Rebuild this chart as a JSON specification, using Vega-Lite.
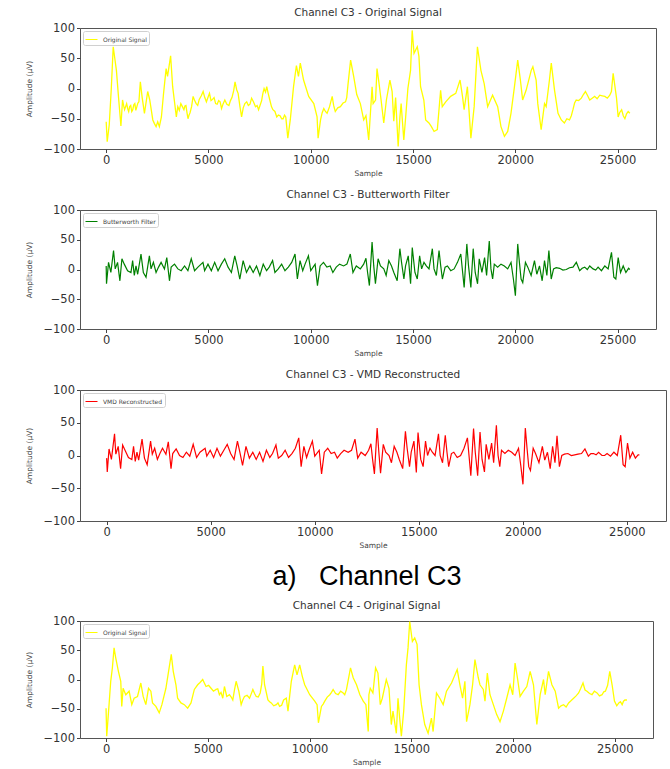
{
"$schema": "https://vega.github.io/schema/vega-lite/v6.json",
"padding": {"left": 25, "top": 7, "right": 2, "bottom": 2},
"background": "white",
"config": {
  "view": {"stroke": "#555", "strokeWidth": 1},
  "font": "DejaVu Sans",
  "title": {"fontSize": 10.5, "fontWeight": "normal", "color": "#333", "font": "DejaVu Sans", "offset": 4},
  "axis": {"grid": false, "domain": false, "tickColor": "#444", "tickSize": 3.5, "labelColor": "#333", "labelFontSize": 11.5, "labelFont": "DejaVu Sans", "titleFont": "DejaVu Sans", "titleFontSize": 7.5, "titleFontWeight": "normal", "titleColor": "#444", "labelPadding": 2},
  "axisX": {"titlePadding": 3},
  "axisY": {"titlePadding": 9},
  "legend": {"orient": "top-left", "offset": 3, "padding": 2, "fillColor": "white", "strokeColor": "#d0d0d0", "cornerRadius": 2, "labelFontSize": 6, "labelFont": "DejaVu Sans", "labelColor": "#444", "symbolType": "stroke", "symbolSize": 144, "symbolStrokeWidth": 1, "labelOffset": 5, "rowPadding": 0}
},
"datasets": {
"c3o": [{"s":0,"v":-55},{"s":50,"v":-88},{"s":150,"v":-60},{"s":250,"v":0},{"s":344,"v":69},{"s":420,"v":50},{"s":500,"v":30},{"s":600,"v":-13},{"s":720,"v":-62},{"s":800,"v":-19},{"s":900,"v":-35},{"s":1000,"v":-25},{"s":1100,"v":-38},{"s":1200,"v":-28},{"s":1300,"v":-35},{"s":1400,"v":-25},{"s":1500,"v":-30},{"s":1600,"v":-22},{"s":1670,"v":11},{"s":1760,"v":-15},{"s":1870,"v":-41},{"s":2030,"v":-5},{"s":2130,"v":-19},{"s":2280,"v":-52},{"s":2360,"v":-58},{"s":2440,"v":-63},{"s":2520,"v":-55},{"s":2600,"v":-63},{"s":2700,"v":-47},{"s":2800,"v":-10},{"s":2930,"v":33},{"s":3000,"v":20},{"s":3150,"v":54},{"s":3250,"v":3},{"s":3430,"v":-47},{"s":3500,"v":-30},{"s":3650,"v":-25},{"s":3800,"v":-35},{"s":3900,"v":-28},{"s":4000,"v":-50},{"s":4100,"v":-40},{"s":4250,"v":-13},{"s":4400,"v":-25},{"s":4550,"v":-18},{"s":4740,"v":-5},{"s":4900,"v":-22},{"s":5050,"v":-8},{"s":5200,"v":-18},{"s":5350,"v":-25},{"s":5500,"v":-20},{"s":5640,"v":-33},{"s":5800,"v":-19},{"s":6000,"v":-28},{"s":6150,"v":-15},{"s":6300,"v":11},{"s":6450,"v":-8},{"s":6620,"v":-47},{"s":6780,"v":-25},{"s":6950,"v":-28},{"s":7110,"v":-16},{"s":7300,"v":-30},{"s":7450,"v":-35},{"s":7600,"v":-20},{"s":7720,"v":0},{"s":7850,"v":3},{"s":8000,"v":-19},{"s":8150,"v":-35},{"s":8340,"v":-47},{"s":8500,"v":-45},{"s":8650,"v":-50},{"s":8780,"v":-47},{"s":8880,"v":-82},{"s":9000,"v":-52},{"s":9160,"v":3},{"s":9300,"v":38},{"s":9400,"v":20},{"s":9490,"v":42},{"s":9650,"v":14},{"s":9900,"v":-13},{"s":10150,"v":-25},{"s":10310,"v":-47},{"s":10360,"v":-82},{"s":10480,"v":-52},{"s":10640,"v":-33},{"s":10800,"v":-41},{"s":11050,"v":-13},{"s":11200,"v":-38},{"s":11450,"v":-30},{"s":11700,"v":-22},{"s":11820,"v":6},{"s":11950,"v":47},{"s":12100,"v":20},{"s":12250,"v":-10},{"s":12426,"v":-25},{"s":12590,"v":-52},{"s":12700,"v":-45},{"s":12835,"v":-85},{"s":13000,"v":3},{"s":13050,"v":-25},{"s":13170,"v":-19},{"s":13240,"v":33},{"s":13330,"v":11},{"s":13440,"v":-19},{"s":13570,"v":-57},{"s":13700,"v":-19},{"s":13870,"v":14},{"s":13980,"v":-5},{"s":14060,"v":-54},{"s":14150,"v":-15},{"s":14275,"v":-96},{"s":14360,"v":-47},{"s":14420,"v":-25},{"s":14550,"v":-85},{"s":14630,"v":-52},{"s":14750,"v":0},{"s":14880,"v":30},{"s":14960,"v":96},{"s":15050,"v":58},{"s":15210,"v":69},{"s":15290,"v":53},{"s":15370,"v":3},{"s":15530,"v":-19},{"s":15620,"v":-52},{"s":15780,"v":-57},{"s":15900,"v":-63},{"s":16030,"v":-71},{"s":16190,"v":-68},{"s":16350,"v":-3},{"s":16430,"v":-30},{"s":16600,"v":-22},{"s":16840,"v":-13},{"s":17090,"v":-8},{"s":17300,"v":14},{"s":17420,"v":-13},{"s":17500,"v":-35},{"s":17660,"v":3},{"s":17830,"v":-82},{"s":17990,"v":-30},{"s":18150,"v":69},{"s":18320,"v":30},{"s":18480,"v":8},{"s":18650,"v":-30},{"s":18890,"v":-11},{"s":19140,"v":-30},{"s":19300,"v":-63},{"s":19470,"v":-79},{"s":19630,"v":-71},{"s":19790,"v":-41},{"s":19960,"v":3},{"s":20120,"v":47},{"s":20250,"v":14},{"s":20360,"v":-19},{"s":20530,"v":-3},{"s":20780,"v":30},{"s":20860,"v":36},{"s":21020,"v":14},{"s":21100,"v":-25},{"s":21265,"v":-68},{"s":21430,"v":-25},{"s":21510,"v":-30},{"s":21670,"v":14},{"s":21760,"v":42},{"s":21920,"v":-3},{"s":22090,"v":-41},{"s":22250,"v":-52},{"s":22400,"v":-57},{"s":22650,"v":-52},{"s":22820,"v":-35},{"s":22980,"v":-19},{"s":23230,"v":-16},{"s":23430,"v":-5},{"s":23640,"v":-19},{"s":23880,"v":-13},{"s":24130,"v":-11},{"s":24380,"v":-13},{"s":24620,"v":-11},{"s":24785,"v":25},{"s":24950,"v":-16},{"s":25030,"v":-47},{"s":25200,"v":-35},{"s":25360,"v":-50},{"s":25520,"v":-38},{"s":25600,"v":-41},
{"s":850,"v":-28},{"s":950,"v":-30},{"s":1050,"v":-33},{"s":1150,"v":-30},{"s":1250,"v":-38},{"s":1350,"v":-27},{"s":1450,"v":-36},{"s":1550,"v":-24},{"s":3575,"v":-36},{"s":3725,"v":-30},{"s":3850,"v":-29},{"s":3950,"v":-40},{"s":4050,"v":-44},{"s":4175,"v":-30},{"s":4325,"v":-20},{"s":4475,"v":-28},{"s":4650,"v":-12},{"s":4820,"v":-15},{"s":4975,"v":-15},{"s":5125,"v":-20},{"s":5275,"v":-15},{"s":5425,"v":-26},{"s":5570,"v":-22},{"s":5720,"v":-25},{"s":5900,"v":-26},{"s":6075,"v":-20},{"s":6230,"v":-4},{"s":6380,"v":-2},{"s":6540,"v":-30},{"s":6700,"v":-32},{"s":6870,"v":-22},{"s":7030,"v":-26},{"s":7200,"v":-22},{"s":7380,"v":-28},{"s":7520,"v":-28},{"s":7660,"v":-8},{"s":7790,"v":-6},{"s":7920,"v":-8},{"s":8080,"v":-30},{"s":8250,"v":-38},{"s":8420,"v":-44},{"s":8580,"v":-50},{"s":8720,"v":-44},{"s":10560,"v":-40},{"s":10720,"v":-38},{"s":10920,"v":-30},{"s":11120,"v":-28},{"s":11320,"v":-32},{"s":11580,"v":-24},{"s":11760,"v":-15},{"s":22520,"v":-50},{"s":22740,"v":-45},{"s":22900,"v":-24},{"s":23100,"v":-20},{"s":23330,"v":-10},{"s":23540,"v":-12},{"s":23760,"v":-16},{"s":24000,"v":-17},{"s":24250,"v":-12},{"s":24500,"v":-16},{"s":24700,"v":-5},{"s":25100,"v":-40},{"s":25280,"v":-45},{"s":25440,"v":-42}],
"c3b": [{"s":0,"v":6},{"s":16,"v":-24},{"s":115,"v":12},{"s":229,"v":-5},{"s":360,"v":32},{"s":442,"v":1},{"s":556,"v":12},{"s":671,"v":-19},{"s":769,"v":18},{"s":884,"v":9},{"s":1047,"v":-2},{"s":1211,"v":-5},{"s":1293,"v":15},{"s":1375,"v":-10},{"s":1457,"v":6},{"s":1539,"v":-8},{"s":1702,"v":26},{"s":1817,"v":-5},{"s":1948,"v":-13},{"s":2112,"v":23},{"s":2194,"v":1},{"s":2308,"v":12},{"s":2439,"v":-5},{"s":2560,"v":4},{"s":2685,"v":12},{"s":2849,"v":1},{"s":2963,"v":20},{"s":3094,"v":-19},{"s":3176,"v":4},{"s":3340,"v":9},{"s":3504,"v":1},{"s":3667,"v":-2},{"s":3831,"v":6},{"s":3995,"v":-2},{"s":4159,"v":18},{"s":4322,"v":-2},{"s":4486,"v":4},{"s":4732,"v":12},{"s":4813,"v":-2},{"s":4977,"v":9},{"s":5141,"v":-2},{"s":5304,"v":12},{"s":5468,"v":-2},{"s":5632,"v":9},{"s":5795,"v":18},{"s":5959,"v":4},{"s":6123,"v":-5},{"s":6286,"v":23},{"s":6401,"v":6},{"s":6532,"v":-16},{"s":6696,"v":15},{"s":6859,"v":-5},{"s":7023,"v":6},{"s":7187,"v":-5},{"s":7350,"v":6},{"s":7514,"v":-10},{"s":7678,"v":9},{"s":7841,"v":-2},{"s":7972,"v":4},{"s":8136,"v":15},{"s":8250,"v":-5},{"s":8414,"v":1},{"s":8578,"v":9},{"s":8741,"v":-2},{"s":8905,"v":4},{"s":9069,"v":12},{"s":9232,"v":26},{"s":9347,"v":-16},{"s":9478,"v":15},{"s":9609,"v":-2},{"s":9723,"v":9},{"s":9887,"v":23},{"s":10002,"v":-2},{"s":10215,"v":9},{"s":10329,"v":-27},{"s":10460,"v":6},{"s":10624,"v":12},{"s":10788,"v":4},{"s":10951,"v":6},{"s":11082,"v":-5},{"s":11246,"v":4},{"s":11410,"v":9},{"s":11606,"v":6},{"s":11770,"v":9},{"s":11934,"v":26},{"s":12065,"v":-5},{"s":12228,"v":6},{"s":12425,"v":1},{"s":12589,"v":9},{"s":12700,"v":19},{"s":12780,"v":-5},{"s":12868,"v":-27},{"s":12999,"v":46},{"s":13081,"v":6},{"s":13163,"v":-24},{"s":13294,"v":18},{"s":13409,"v":6},{"s":13572,"v":1},{"s":13687,"v":-10},{"s":13818,"v":15},{"s":13949,"v":6},{"s":14063,"v":-5},{"s":14227,"v":-19},{"s":14358,"v":35},{"s":14440,"v":12},{"s":14555,"v":-16},{"s":14636,"v":6},{"s":14767,"v":23},{"s":14882,"v":-24},{"s":14964,"v":37},{"s":15095,"v":-5},{"s":15209,"v":-16},{"s":15324,"v":23},{"s":15422,"v":1},{"s":15537,"v":12},{"s":15651,"v":6},{"s":15782,"v":1},{"s":15946,"v":35},{"s":16028,"v":1},{"s":16142,"v":-10},{"s":16273,"v":32},{"s":16355,"v":6},{"s":16437,"v":-16},{"s":16568,"v":4},{"s":16683,"v":6},{"s":16846,"v":-2},{"s":17010,"v":1},{"s":17174,"v":12},{"s":17337,"v":26},{"s":17501,"v":-30},{"s":17632,"v":43},{"s":17714,"v":6},{"s":17829,"v":-30},{"s":17943,"v":35},{"s":18041,"v":-5},{"s":18156,"v":-24},{"s":18238,"v":18},{"s":18369,"v":-5},{"s":18500,"v":20},{"s":18598,"v":-10},{"s":18729,"v":48},{"s":18811,"v":1},{"s":18893,"v":-16},{"s":18974,"v":9},{"s":19138,"v":4},{"s":19302,"v":9},{"s":19466,"v":6},{"s":19629,"v":1},{"s":19793,"v":12},{"s":19908,"v":-16},{"s":20006,"v":-44},{"s":20120,"v":43},{"s":20202,"v":12},{"s":20284,"v":-16},{"s":20366,"v":-22},{"s":20497,"v":12},{"s":20611,"v":4},{"s":20775,"v":-10},{"s":20939,"v":15},{"s":21053,"v":-8},{"s":21184,"v":6},{"s":21315,"v":-19},{"s":21430,"v":15},{"s":21545,"v":-10},{"s":21643,"v":32},{"s":21757,"v":-16},{"s":21872,"v":1},{"s":22000,"v":3},{"s":22167,"v":2},{"s":22330,"v":-1},{"s":22494,"v":0},{"s":22650,"v":3},{"s":22821,"v":4},{"s":22985,"v":12},{"s":23149,"v":-2},{"s":23270,"v":2},{"s":23394,"v":4},{"s":23520,"v":0},{"s":23640,"v":6},{"s":23804,"v":1},{"s":23930,"v":-1},{"s":24049,"v":4},{"s":24213,"v":-2},{"s":24377,"v":6},{"s":24540,"v":1},{"s":24704,"v":29},{"s":24819,"v":-13},{"s":24916,"v":-16},{"s":25031,"v":20},{"s":25146,"v":-5},{"s":25277,"v":6},{"s":25408,"v":-5},{"s":25539,"v":2},{"s":25600,"v":0}],
"c3v": [{"s":0,"v":-4},{"s":30,"v":-25},{"s":115,"v":10},{"s":229,"v":-6},{"s":380,"v":33},{"s":442,"v":2},{"s":556,"v":14},{"s":671,"v":-20},{"s":769,"v":16},{"s":884,"v":8},{"s":1047,"v":-3},{"s":1211,"v":-6},{"s":1293,"v":14},{"s":1375,"v":-9},{"s":1457,"v":5},{"s":1539,"v":-7},{"s":1702,"v":25},{"s":1817,"v":-4},{"s":1948,"v":-14},{"s":2112,"v":22},{"s":2194,"v":2},{"s":2308,"v":11},{"s":2439,"v":-6},{"s":2560,"v":3},{"s":2685,"v":11},{"s":2849,"v":2},{"s":2963,"v":21},{"s":3094,"v":-20},{"s":3176,"v":3},{"s":3340,"v":10},{"s":3504,"v":0},{"s":3667,"v":-3},{"s":3831,"v":5},{"s":3995,"v":-1},{"s":4159,"v":17},{"s":4322,"v":-3},{"s":4486,"v":5},{"s":4732,"v":11},{"s":4813,"v":-1},{"s":4977,"v":8},{"s":5141,"v":-3},{"s":5304,"v":11},{"s":5468,"v":-1},{"s":5632,"v":8},{"s":5795,"v":17},{"s":5959,"v":3},{"s":6123,"v":-6},{"s":6286,"v":22},{"s":6401,"v":5},{"s":6532,"v":-15},{"s":6696,"v":14},{"s":6859,"v":-4},{"s":7023,"v":5},{"s":7187,"v":-6},{"s":7350,"v":5},{"s":7514,"v":-9},{"s":7678,"v":8},{"s":7841,"v":-3},{"s":7972,"v":3},{"s":8136,"v":16},{"s":8250,"v":-4},{"s":8414,"v":0},{"s":8578,"v":8},{"s":8741,"v":-3},{"s":8905,"v":3},{"s":9069,"v":11},{"s":9232,"v":27},{"s":9347,"v":-17},{"s":9478,"v":14},{"s":9609,"v":-3},{"s":9723,"v":8},{"s":9887,"v":22},{"s":10002,"v":-1},{"s":10215,"v":8},{"s":10329,"v":-28},{"s":10460,"v":5},{"s":10624,"v":11},{"s":10788,"v":3},{"s":10951,"v":5},{"s":11082,"v":-4},{"s":11246,"v":3},{"s":11410,"v":8},{"s":11606,"v":5},{"s":11770,"v":8},{"s":11934,"v":25},{"s":12065,"v":-4},{"s":12228,"v":5},{"s":12425,"v":0},{"s":12589,"v":8},{"s":12700,"v":18},{"s":12780,"v":-6},{"s":12868,"v":-28},{"s":12999,"v":42},{"s":13081,"v":5},{"s":13163,"v":-27},{"s":13294,"v":17},{"s":13409,"v":5},{"s":13572,"v":0},{"s":13687,"v":-11},{"s":13818,"v":14},{"s":13949,"v":5},{"s":14063,"v":-6},{"s":14227,"v":-20},{"s":14358,"v":37},{"s":14440,"v":11},{"s":14555,"v":-17},{"s":14636,"v":5},{"s":14767,"v":22},{"s":14882,"v":-26},{"s":14964,"v":35},{"s":15095,"v":-6},{"s":15209,"v":-17},{"s":15324,"v":22},{"s":15422,"v":0},{"s":15537,"v":11},{"s":15651,"v":5},{"s":15782,"v":0},{"s":15946,"v":33},{"s":16028,"v":0},{"s":16142,"v":-11},{"s":16273,"v":31},{"s":16355,"v":5},{"s":16437,"v":-17},{"s":16568,"v":3},{"s":16683,"v":5},{"s":16846,"v":-3},{"s":17010,"v":0},{"s":17174,"v":11},{"s":17337,"v":27},{"s":17501,"v":-31},{"s":17632,"v":41},{"s":17714,"v":5},{"s":17829,"v":-31},{"s":17943,"v":36},{"s":18041,"v":-6},{"s":18156,"v":-25},{"s":18238,"v":17},{"s":18369,"v":-6},{"s":18500,"v":19},{"s":18598,"v":-11},{"s":18729,"v":46},{"s":18811,"v":0},{"s":18893,"v":-17},{"s":18974,"v":8},{"s":19138,"v":3},{"s":19302,"v":8},{"s":19466,"v":5},{"s":19629,"v":0},{"s":19793,"v":11},{"s":19908,"v":-17},{"s":20006,"v":-44},{"s":20120,"v":42},{"s":20202,"v":11},{"s":20284,"v":-17},{"s":20366,"v":-23},{"s":20497,"v":11},{"s":20611,"v":3},{"s":20775,"v":-11},{"s":20939,"v":14},{"s":21053,"v":-7},{"s":21184,"v":5},{"s":21315,"v":-20},{"s":21430,"v":14},{"s":21545,"v":-11},{"s":21643,"v":30},{"s":21757,"v":-17},{"s":21872,"v":0},{"s":22000,"v":2},{"s":22167,"v":3},{"s":22330,"v":0},{"s":22494,"v":1},{"s":22650,"v":2},{"s":22821,"v":3},{"s":22985,"v":10},{"s":23149,"v":-1},{"s":23270,"v":3},{"s":23394,"v":3},{"s":23520,"v":1},{"s":23640,"v":5},{"s":23804,"v":0},{"s":23930,"v":0},{"s":24049,"v":3},{"s":24213,"v":-1},{"s":24377,"v":5},{"s":24540,"v":0},{"s":24704,"v":31},{"s":24819,"v":-14},{"s":24916,"v":-17},{"s":25031,"v":19},{"s":25146,"v":-4},{"s":25277,"v":5},{"s":25408,"v":-4},{"s":25539,"v":1},{"s":25600,"v":1}],
"c4o": [{"s":0,"v":-49},{"s":33,"v":-97},{"s":148,"v":-43},{"s":230,"v":-3},{"s":312,"v":20},{"s":394,"v":54},{"s":476,"v":37},{"s":608,"v":14},{"s":723,"v":-3},{"s":772,"v":-46},{"s":838,"v":-15},{"s":970,"v":-26},{"s":1134,"v":-20},{"s":1265,"v":-43},{"s":1380,"v":-32},{"s":1545,"v":-29},{"s":1709,"v":-6},{"s":1824,"v":-29},{"s":1956,"v":-43},{"s":2087,"v":-15},{"s":2202,"v":-20},{"s":2284,"v":-40},{"s":2449,"v":-46},{"s":2613,"v":-57},{"s":2745,"v":-43},{"s":2942,"v":-15},{"s":3073,"v":14},{"s":3205,"v":43},{"s":3303,"v":14},{"s":3435,"v":-9},{"s":3517,"v":-32},{"s":3682,"v":-40},{"s":3846,"v":-43},{"s":4010,"v":-49},{"s":4175,"v":-40},{"s":4339,"v":-17},{"s":4503,"v":-9},{"s":4750,"v":0},{"s":4914,"v":-12},{"s":5160,"v":-15},{"s":5407,"v":-17},{"s":5571,"v":-26},{"s":5736,"v":-32},{"s":5818,"v":-12},{"s":5933,"v":-29},{"s":6064,"v":-26},{"s":6229,"v":-35},{"s":6393,"v":-3},{"s":6525,"v":-20},{"s":6640,"v":-43},{"s":6804,"v":-29},{"s":7051,"v":-32},{"s":7215,"v":-17},{"s":7379,"v":-29},{"s":7577,"v":-23},{"s":7708,"v":23},{"s":7790,"v":-9},{"s":7955,"v":-35},{"s":8119,"v":-40},{"s":8366,"v":-43},{"s":8530,"v":-46},{"s":8727,"v":-35},{"s":8859,"v":-32},{"s":8941,"v":-54},{"s":9105,"v":-3},{"s":9270,"v":25},{"s":9385,"v":8},{"s":9516,"v":25},{"s":9648,"v":5},{"s":9763,"v":-9},{"s":10009,"v":-26},{"s":10256,"v":-37},{"s":10371,"v":-43},{"s":10437,"v":-74},{"s":10585,"v":-46},{"s":10749,"v":-37},{"s":10996,"v":-26},{"s":11160,"v":-17},{"s":11407,"v":-26},{"s":11653,"v":-23},{"s":11817,"v":-17},{"s":12014,"v":20},{"s":12146,"v":3},{"s":12310,"v":-9},{"s":12475,"v":-26},{"s":12639,"v":-37},{"s":12770,"v":-43},{"s":12885,"v":-89},{"s":12918,"v":-26},{"s":12984,"v":-15},{"s":13115,"v":-23},{"s":13247,"v":20},{"s":13362,"v":11},{"s":13477,"v":-43},{"s":13576,"v":-32},{"s":13773,"v":0},{"s":13904,"v":-15},{"s":14019,"v":-77},{"s":14102,"v":-54},{"s":14266,"v":-92},{"s":14348,"v":-32},{"s":14430,"v":-66},{"s":14513,"v":-97},{"s":14628,"v":-54},{"s":14759,"v":25},{"s":14841,"v":54},{"s":14924,"v":99},{"s":15055,"v":65},{"s":15170,"v":71},{"s":15285,"v":60},{"s":15384,"v":-9},{"s":15499,"v":-43},{"s":15663,"v":-77},{"s":15828,"v":-92},{"s":15992,"v":-66},{"s":16074,"v":-89},{"s":16239,"v":-23},{"s":16403,"v":-32},{"s":16568,"v":-43},{"s":16732,"v":-20},{"s":16979,"v":-6},{"s":17258,"v":17},{"s":17390,"v":-9},{"s":17521,"v":-32},{"s":17636,"v":-3},{"s":17718,"v":-72},{"s":17883,"v":-43},{"s":18014,"v":-9},{"s":18129,"v":34},{"s":18294,"v":3},{"s":18376,"v":-9},{"s":18540,"v":-17},{"s":18623,"v":-37},{"s":18738,"v":11},{"s":18869,"v":-26},{"s":19034,"v":-43},{"s":19198,"v":-60},{"s":19362,"v":-72},{"s":19527,"v":-54},{"s":19691,"v":-32},{"s":19856,"v":-9},{"s":19987,"v":-26},{"s":20102,"v":28},{"s":20217,"v":3},{"s":20349,"v":-29},{"s":20513,"v":-20},{"s":20678,"v":-12},{"s":20842,"v":14},{"s":21006,"v":-9},{"s":21171,"v":-77},{"s":21335,"v":-26},{"s":21500,"v":0},{"s":21582,"v":-26},{"s":21746,"v":14},{"s":21911,"v":-9},{"s":22075,"v":-20},{"s":22239,"v":-49},{"s":22486,"v":-43},{"s":22733,"v":-40},{"s":22979,"v":-32},{"s":23226,"v":-23},{"s":23440,"v":-6},{"s":23637,"v":-20},{"s":23883,"v":-26},{"s":24130,"v":-23},{"s":24377,"v":-26},{"s":24541,"v":-20},{"s":24755,"v":14},{"s":24870,"v":-9},{"s":24986,"v":-37},{"s":25200,"v":-40},{"s":25363,"v":-43},{"s":25500,"v":-35},{"s":25600,"v":-35},
{"s":4620,"v":-5},{"s":4830,"v":-6},{"s":5040,"v":-10},{"s":5280,"v":-20},{"s":5490,"v":-16},{"s":5650,"v":-22},{"s":6150,"v":-30},{"s":6310,"v":-18},{"s":6720,"v":-35},{"s":6930,"v":-27},{"s":7130,"v":-25},{"s":7300,"v":-24},{"s":7480,"v":-30},{"s":7650,"v":-8},{"s":8040,"v":-38},{"s":8240,"v":-45},{"s":8450,"v":-40},{"s":8630,"v":-44},{"s":10670,"v":-42},{"s":10870,"v":-30},{"s":11080,"v":-22},{"s":11280,"v":-24},{"s":11530,"v":-20},{"s":11730,"v":-26},{"s":22360,"v":-45},{"s":22610,"v":-47},{"s":22860,"v":-36},{"s":23100,"v":-28},{"s":23330,"v":-15},{"s":23540,"v":-18},{"s":23760,"v":-24},{"s":24000,"v":-20},{"s":24250,"v":-28},{"s":24460,"v":-21},{"s":24650,"v":-10},{"s":25100,"v":-45},{"s":25280,"v":-38},{"s":25430,"v":-37}]
},
"spacing": 10,
"vconcat": [
  {
    "title": {"text": "a)\u00a0\u00a0\u00a0Channel C3", "orient": "bottom", "font": "Liberation Sans", "fontSize": 27, "color": "black", "offset": 15, "anchor": "middle", "dx": 21},
    "spacing": 12,
    "resolve": {"scale": {"color": "independent"}, "legend": {"color": "independent"}},
    "vconcat": [
      {
        "title": "Channel C3 - Original Signal",
        "width": 576, "height": 121,
        "data": {"name": "c3o"},
        "mark": {"type": "line", "strokeWidth": 1.3, "clip": true},
        "encoding": {
          "x": {"field": "s", "type": "quantitative", "scale": {"domain": [-1280, 26880], "nice": false, "zero": false}, "axis": {"title": "Sample", "values": [0, 5000, 10000, 15000, 20000, 25000], "format": "d"}},
          "y": {"field": "v", "type": "quantitative", "scale": {"domain": [-100, 100], "nice": false}, "axis": {"title": "Amplitude (µV)", "values": [-100, -50, 0, 50, 100]}},
          "color": {"datum": "Original Signal", "type": "nominal", "scale": {"range": ["#ffff00"]}, "legend": {"title": null}}
        }
      },
      {
        "title": "Channel C3 - Butterworth Filter",
        "width": 576, "height": 119,
        "data": {"name": "c3b"},
        "mark": {"type": "line", "strokeWidth": 1.2, "clip": true},
        "encoding": {
          "x": {"field": "s", "type": "quantitative", "scale": {"domain": [-1280, 26880], "nice": false, "zero": false}, "axis": {"title": "Sample", "values": [0, 5000, 10000, 15000, 20000, 25000], "format": "d"}},
          "y": {"field": "v", "type": "quantitative", "scale": {"domain": [-100, 100], "nice": false}, "axis": {"title": "Amplitude (µV)", "values": [-100, -50, 0, 50, 100]}},
          "color": {"datum": "Butterworth Filter", "type": "nominal", "scale": {"range": ["#008000"]}, "legend": {"title": null}}
        }
      },
      {
        "title": "Channel C3 - VMD Reconstructed",
        "width": 586, "height": 131,
        "data": {"name": "c3v"},
        "mark": {"type": "line", "strokeWidth": 1.2, "clip": true},
        "encoding": {
          "x": {"field": "s", "type": "quantitative", "scale": {"domain": [-1280, 26880], "nice": false, "zero": false}, "axis": {"title": "Sample", "values": [0, 5000, 10000, 15000, 20000, 25000], "format": "d"}},
          "y": {"field": "v", "type": "quantitative", "scale": {"domain": [-100, 100], "nice": false}, "axis": {"title": "Amplitude (µV)", "values": [-100, -50, 0, 50, 100]}},
          "color": {"datum": "VMD Reconstructed", "type": "nominal", "scale": {"range": ["#ff0000"]}, "legend": {"title": null}}
        }
      }
    ]
  },
  {
    "title": "Channel C4 - Original Signal",
    "width": 573, "height": 117,
    "data": {"name": "c4o"},
    "mark": {"type": "line", "strokeWidth": 1.3, "clip": true},
    "encoding": {
      "x": {"field": "s", "type": "quantitative", "scale": {"domain": [-1280, 26880], "nice": false, "zero": false}, "axis": {"title": "Sample", "values": [0, 5000, 10000, 15000, 20000, 25000], "format": "d"}},
      "y": {"field": "v", "type": "quantitative", "scale": {"domain": [-100, 100], "nice": false}, "axis": {"title": "Amplitude (µV)", "values": [-100, -50, 0, 50, 100]}},
      "color": {"datum": "Original Signal", "type": "nominal", "scale": {"range": ["#ffff00"]}, "legend": {"title": null}}
    }
  }
],
"resolve": {"scale": {"color": "independent"}, "legend": {"color": "independent"}}
}
